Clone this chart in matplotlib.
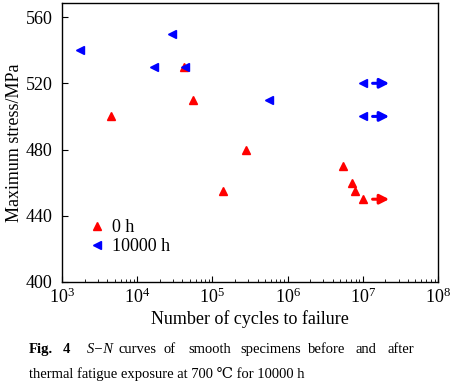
import matplotlib
matplotlib.use("Agg")
import matplotlib.pyplot as plt
from matplotlib.ticker import LogLocator, FixedLocator, NullFormatter

plt.rcParams['font.family'] = ['Liberation Serif', 'DejaVu Serif']
plt.rcParams['mathtext.fontset'] = 'stix'

# Data
n0 = [4.5e3, 4.2e4, 5.5e4, 1.4e5, 2.8e5, 5.4e6, 7.2e6, 7.9e6, 1.0e7]
s0 = [500, 530, 510, 455, 480, 470, 460, 455, 450]
n1 = [1.74e3, 2.87e4, 1.66e4, 4.36e4, 5.6e5, 1.0e7, 1.0e7]
s1 = [540, 550, 530, 530, 510, 520, 500]
# run-outs (arrows): start, end, stress, series colour
runout_start = [1.35e7, 1.35e7, 1.35e7]
runout_end = [2.24e7, 2.24e7, 2.24e7]
runout_stress = [450, 520, 500]
runout_series = ['0 h', '10000 h', '10000 h']
yticks = [400, 440, 480, 520, 560]
labels = ['0 h', '10000 h']
colors = {'0 h': '#ff0000', '10000 h': '#0000ff'}

fig = plt.figure(figsize=(4.5, 3.87), dpi=100)
ax = fig.add_axes([62/450, 1-282/387, (438-62)/450, (282-3)/387])

ax.plot(n0, s0, linestyle='none', marker='^', color=colors['0 h'], markersize=6, label=labels[0])
ax.plot(n1, s1, linestyle='none', marker='<', color=colors['10000 h'], markersize=6, label=labels[1])
for a, b, s, ser in zip(runout_start, runout_end, runout_stress, runout_series):
    ax.annotate('', xy=(b, s), xytext=(a, s),
                arrowprops=dict(arrowstyle='-|>,head_length=0.55,head_width=0.28', lw=2.2,
                                color=colors[ser], shrinkA=0, shrinkB=0, mutation_scale=10))

ax.set_xscale('log')
ax.set_xlim(1e3, 1e8)
ax.set_ylim(400, 568.5)
ax.yaxis.set_major_locator(FixedLocator(yticks))
ax.xaxis.set_major_locator(LogLocator(base=10, numticks=10))
ax.xaxis.set_minor_locator(LogLocator(base=10, subs=range(2, 10), numticks=20))
ax.xaxis.set_minor_formatter(NullFormatter())
ax.tick_params(axis='both', which='major', direction='in', length=4, width=0.8, labelsize=13, pad=4)
ax.tick_params(axis='y', which='major', pad=7)
ax.tick_params(axis='x', which='minor', direction='in', length=2.5, width=0.6)
for sp in ax.spines.values():
    sp.set_linewidth(1.0)

ax.set_xlabel('Number of cycles to failure', fontsize=13, labelpad=2)
ax.set_ylabel('Maximum stress/MPa', fontsize=13, labelpad=2)

leg = ax.legend(loc='center left', bbox_to_anchor=(0.07, 0.16), frameon=False, fontsize=13,
                handlelength=1.0, handletextpad=0.3, borderaxespad=0.0, labelspacing=0.1,
                borderpad=0.0)

# caption
fs = 10.5
y1 = 1 - 353/387
y2 = 1 - 378/387
words1 = [('Fig.', 29, 'bold', 'normal'), ('4', 63, 'bold', 'normal'), ('S\u2212N', 87, 'normal', 'italic'),
          ('curves', 119, 'normal', 'normal'), ('of', 164, 'normal', 'normal'), ('smooth', 188, 'normal', 'normal'),
          ('specimens', 240, 'normal', 'normal'), ('before', 308, 'normal', 'normal'),
          ('and', 355, 'normal', 'normal'), ('after', 387, 'normal', 'normal')]
for w, x, fw, st in words1:
    fig.text(x/450, y1, w, fontsize=fs, fontweight=fw, fontstyle=st, ha='left', va='baseline')
fig.text(29/450, y2, 'thermal fatigue exposure at 700 \u2103 for 10000 h', fontsize=fs,
         ha='left', va='baseline', family=['Liberation Serif', 'DejaVu Serif', 'Noto Sans CJK SC'])

fig.savefig('out.png', dpi=100)
